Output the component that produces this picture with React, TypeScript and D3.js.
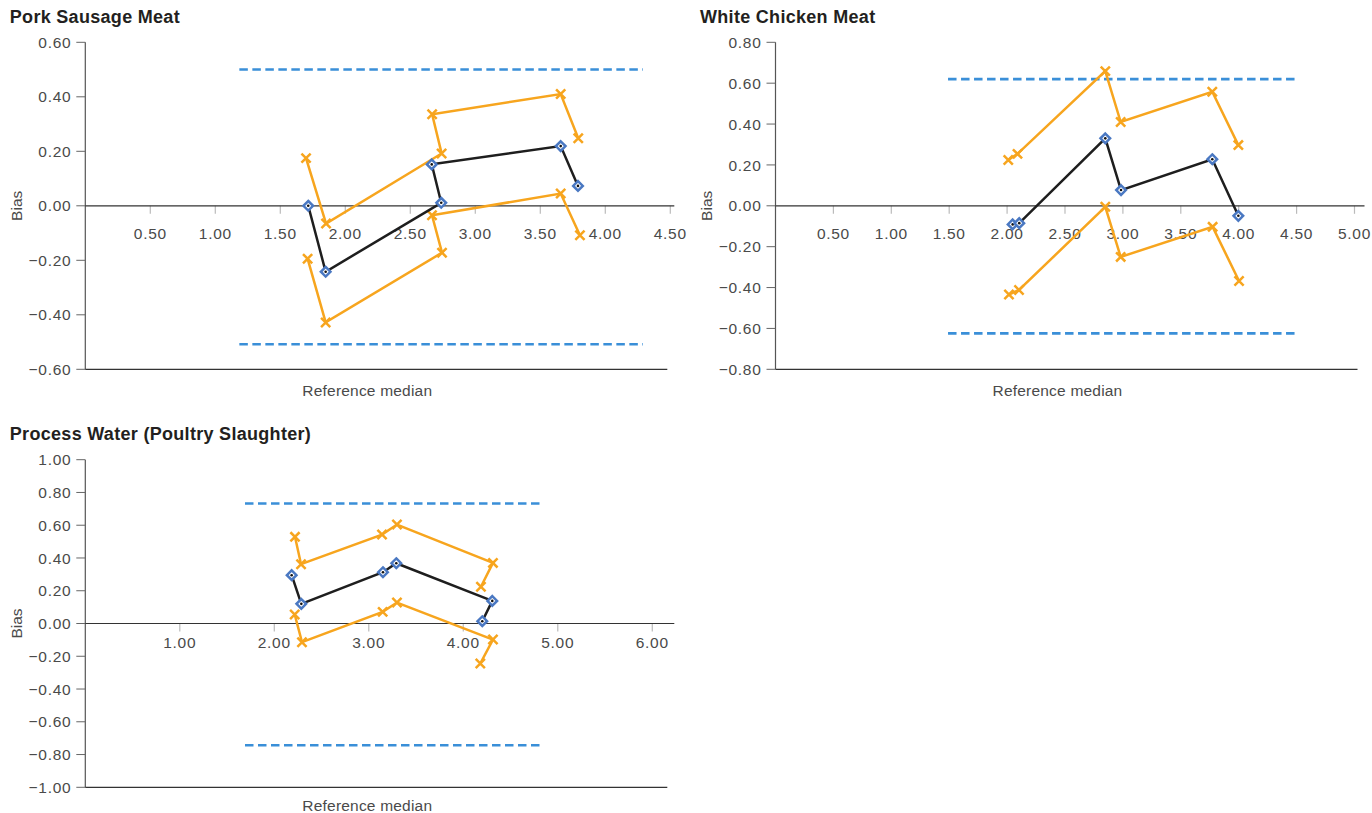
import React from "react";
import * as d3 from "d3";

// ---------- Data ----------
const porkX = [1.715, 1.849, 2.738, 2.665, 3.657, 3.79];
const porkBias = [0.0, -0.242, 0.011, 0.152, 0.219, 0.073];
const porkUpperX = [1.698, 1.852, 2.741, 2.668, 3.657, 3.792];
const porkUpper = [0.175, -0.065, 0.192, 0.336, 0.41, 0.248];
const porkLowerX = [1.71, 1.849, 2.744, 2.667, 3.657, 3.805];
const porkLower = [-0.194, -0.428, -0.172, -0.035, 0.045, -0.108];
const porkLimits = [0.5, -0.508];
const porkLimitRange = [1.185, 4.29];
const porkXTicks = [0.5, 1.0, 1.5, 2.0, 2.5, 3.0, 3.5, 4.0, 4.5];
const porkYTicks = [0.6, 0.4, 0.2, 0.0, -0.2, -0.4, -0.6];

const chickenX = [2.048, 2.105, 2.848, 2.984, 3.772, 3.997];
const chickenBias = [-0.091, -0.085, 0.33, 0.077, 0.228, -0.049];
const chickenUpperX = [2.01, 2.09, 2.848, 2.981, 3.772, 3.997];
const chickenUpper = [0.224, 0.254, 0.659, 0.41, 0.558, 0.297];
const chickenLowerX = [2.016, 2.103, 2.848, 2.981, 3.775, 4.003];
const chickenLower = [-0.434, -0.412, -0.005, -0.25, -0.103, -0.368];
const chickenLimits = [0.62, -0.624];
const chickenLimitRange = [1.49, 4.515];
const chickenXTicks = [0.5, 1.0, 1.5, 2.0, 2.5, 3.0, 3.5, 4.0, 4.5, 5.0];
const chickenYTicks = [0.8, 0.6, 0.4, 0.2, 0.0, -0.2, -0.4, -0.6, -0.8];

const waterX = [2.184, 2.286, 3.15, 3.291, 4.307, 4.201];
const waterBias = [0.295, 0.12, 0.313, 0.368, 0.138, 0.014];
const waterUpperX = [2.219, 2.283, 3.14, 3.298, 4.314, 4.187];
const waterUpper = [0.529, 0.362, 0.543, 0.604, 0.37, 0.224];
const waterLowerX = [2.216, 2.293, 3.147, 3.298, 4.314, 4.18];
const waterLower = [0.055, -0.114, 0.071, 0.128, -0.098, -0.244];
const waterLimits = [0.733, -0.743];
const waterLimitRange = [1.69, 4.81];
const waterXTicks = [1, 2, 3, 4, 5, 6];
const waterYTicks = [1.0, 0.8, 0.6, 0.4, 0.2, 0.0, -0.2, -0.4, -0.6, -0.8, -1.0];

// ---------- Styles ----------
const FONT = "'Liberation Sans', Arial, Helvetica, sans-serif";
const ORANGE = "#F7A51E";
const BLUE_DASH = "#3A8FD8";
const BLUE_MARK = "#4A78C2";
const AXIS = "#333333";
const TEXT = "#4a4a4a";

const zip = (xs: number[], ys: number[]) => xs.map((x, i) => [x, ys[i]] as [number, number]);

type PanelProps = {
  title: string;
  left: number;
  top: number;
  width: number;
  height: number;
  xMax: number;
  yDomain: [number, number];
  xTicks: number[];
  yTicks: number[];
  xLabelOffset: number;
  xTitleOffset: number;
  bias: [number, number][];
  upper: [number, number][];
  lower: [number, number][];
  limits: number[];
  limitRange: number[];
};

function Panel(p: PanelProps) {
  const x = d3.scaleLinear().domain([0, p.xMax]).range([p.left, p.left + p.width]);
  const y = d3.scaleLinear().domain(p.yDomain).range([p.top + p.height, p.top]);
  const line = d3
    .line<[number, number]>()
    .x((d) => x(d[0]))
    .y((d) => y(d[1]));
  const y0 = y(0);
  const bottom = p.top + p.height;
  const a = 4.6;
  const cross = (cx: number, cy: number, k: string) => (
    <path
      key={k}
      d={`M${cx - a},${cy - a}L${cx + a},${cy + a}M${cx - a},${cy + a}L${cx + a},${cy - a}`}
      stroke={ORANGE}
      strokeWidth={2.5}
      fill="none"
    />
  );
  return (
    <g>
      <text x={p.left - 75.5} y={p.top - 19.6} fontFamily={FONT} fontWeight="bold" fontSize={18} fill="#231f20" letterSpacing={0.3}>
        {p.title}
      </text>
      {/* y axis */}
      <line x1={p.left} x2={p.left} y1={p.top} y2={bottom} stroke="#555" strokeWidth={1.2} />
      {p.yTicks.map((t) => (
        <g key={"y" + t}>
          <line x1={p.left - 9} x2={p.left} y1={y(t)} y2={y(t)} stroke="#666" strokeWidth={1} />
          <text
            x={p.left - 14}
            y={y(t)}
            dy="0.36em"
            textAnchor="end"
            fontFamily={FONT}
            fontSize={15.5}
            letterSpacing={0.7}
            fill={TEXT}
          >
            {d3.format(".2f")(t).replace("-", "\u2212")}
          </text>
        </g>
      ))}
      {/* bottom border */}
      <line x1={p.left} x2={p.left + p.width} y1={bottom} y2={bottom} stroke={AXIS} strokeWidth={1.2} />
      {/* x ticks on zero line */}
      {p.xTicks.map((t) => (
        <g key={"x" + t}>
          <line x1={x(t)} x2={x(t)} y1={y0} y2={y0 + 8} stroke="#bbbbbb" strokeWidth={1.2} />
          <text
            x={x(t)}
            y={y0 + p.xLabelOffset}
            textAnchor="middle"
            fontFamily={FONT}
            fontSize={15.5}
            letterSpacing={0.7}
            fill={TEXT}
          >
            {d3.format(".2f")(t)}
          </text>
        </g>
      ))}
      <line x1={p.left} x2={p.left + p.width + 7} y1={y0} y2={y0} stroke={AXIS} strokeWidth={1.2} />
      {/* axis titles */}
      <text
        transform={`translate(${p.left - 69},${y0}) rotate(-90)`}
        textAnchor="middle"
        dy="0.36em"
        fontFamily={FONT}
        fontSize={15.5}
        fill={TEXT}
      >
        Bias
      </text>
      <text x={p.left + 282} y={bottom + p.xTitleOffset} textAnchor="middle" fontFamily={FONT} fontSize={15.5} letterSpacing={0.2} fill={TEXT}>
        Reference median
      </text>
      {/* limits */}
      {p.limits.map((l, i) => (
        <line
          key={"l" + i}
          x1={x(p.limitRange[0])}
          x2={x(p.limitRange[1])}
          y1={y(l)}
          y2={y(l)}
          stroke={BLUE_DASH}
          strokeWidth={2.6}
          strokeDasharray="8.5,4.5"
        />
      ))}
      {/* CI lines */}
      <path d={line(p.upper) || ""} fill="none" stroke={ORANGE} strokeWidth={2.5} />
      <path d={line(p.lower) || ""} fill="none" stroke={ORANGE} strokeWidth={2.5} />
      {p.upper.map((d, i) => cross(x(d[0]), y(d[1]), "u" + i))}
      {p.lower.map((d, i) => cross(x(d[0]), y(d[1]), "lo" + i))}
      {/* bias line */}
      <path d={line(p.bias) || ""} fill="none" stroke="#1e1e1e" strokeWidth={2.5} />
      {p.bias.map((d, i) => {
        const cx = x(d[0]);
        const cy = y(d[1]);
        const r = 4.8;
        return (
          <g key={"b" + i}>
            <path
              d={`M${cx},${cy - r}L${cx + r},${cy}L${cx},${cy + r}L${cx - r},${cy}Z`}
              fill="#ffffff"
              stroke={BLUE_MARK}
              strokeWidth={2.5}
            />
            <circle cx={cx} cy={cy} r={1.3} fill="#111" />
          </g>
        );
      })}
    </g>
  );
}

export default function App() {
  return (
    <svg
      width={1372}
      height={813}
      style={{ position: "absolute", left: 0, top: 0, display: "block", background: "#fff" }}
    >
      <Panel
        title="Pork Sausage Meat"
        left={85.3}
        top={42.3}
        width={582}
        height={327}
        xMax={4.477}
        yDomain={[-0.6, 0.6]}
        xTicks={porkXTicks}
        yTicks={porkYTicks}
        xLabelOffset={33}
        xTitleOffset={27}
        bias={zip(porkX, porkBias)}
        upper={zip(porkUpperX, porkUpper)}
        lower={zip(porkLowerX, porkLower)}
        limits={porkLimits}
        limitRange={porkLimitRange}
      />
      <Panel
        title="White Chicken Meat"
        left={775.5}
        top={42.3}
        width={582}
        height={327}
        xMax={5.026}
        yDomain={[-0.8, 0.8]}
        xTicks={chickenXTicks}
        yTicks={chickenYTicks}
        xLabelOffset={33}
        xTitleOffset={27}
        bias={zip(chickenX, chickenBias)}
        upper={zip(chickenUpperX, chickenUpper)}
        lower={zip(chickenLowerX, chickenLower)}
        limits={chickenLimits}
        limitRange={chickenLimitRange}
      />
      <Panel
        title="Process Water (Poultry Slaughter)"
        left={85.3}
        top={459.7}
        width={582}
        height={327.6}
        xMax={6.159}
        yDomain={[-1, 1]}
        xTicks={waterXTicks}
        yTicks={waterYTicks}
        xLabelOffset={24.5}
        xTitleOffset={23.5}
        bias={zip(waterX, waterBias)}
        upper={zip(waterUpperX, waterUpper)}
        lower={zip(waterLowerX, waterLower)}
        limits={waterLimits}
        limitRange={waterLimitRange}
      />
    </svg>
  );
}
